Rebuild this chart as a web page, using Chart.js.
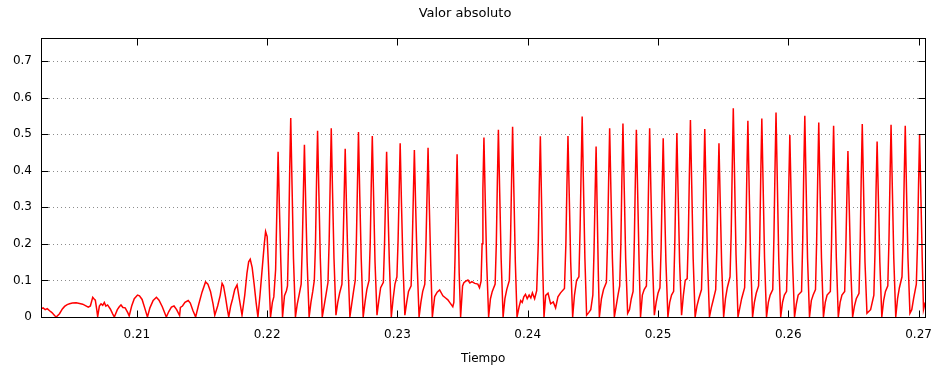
<!DOCTYPE html>
<html>
<head>
<meta charset="utf-8">
<script src="https://cdn.jsdelivr.net/npm/chart.js@4.4.1/dist/chart.umd.min.js"></script>
<style>
  html, body { margin: 0; padding: 0; background: #fff; }
  #wrap { width: 943px; height: 370px; }
</style>
</head>
<body>
<div id="wrap"><canvas id="chart" width="943" height="370"></canvas></div>
<script>
// values: [tiempo, valor absoluto]
const onset = [
  [0.20264,0.022],[0.20280,0.025],[0.20296,0.020],[0.20312,0.023],[0.20330,0.017],[0.20348,0.012],
  [0.20368,0.004],[0.20381,0.0],[0.20406,0.009],[0.20428,0.022],[0.20445,0.029],[0.20465,0.034],
  [0.20483,0.036],[0.20505,0.038],[0.20534,0.039],[0.20560,0.037],[0.20584,0.035],[0.20605,0.031],
  [0.20627,0.027],[0.20643,0.030],[0.20661,0.054],[0.20670,0.050],[0.20681,0.046],[0.20692,0.020],
  [0.20699,0.001],[0.20712,0.030],[0.20725,0.036],[0.20738,0.032],[0.20750,0.040],[0.20762,0.030],
  [0.20775,0.033],[0.20796,0.022],[0.20815,0.008],[0.20827,0.0],[0.20850,0.020],[0.20865,0.028],
  [0.20878,0.033],[0.20893,0.026],[0.20910,0.025],[0.20930,0.012],[0.20941,0.003],[0.20960,0.030],
  [0.20980,0.050],[0.21005,0.060],[0.21020,0.058],[0.21040,0.048],[0.21060,0.025],[0.21081,0.0],
  [0.21100,0.025],[0.21125,0.045],[0.21150,0.054],[0.21170,0.046],[0.21195,0.028],[0.21226,0.0],
  [0.21245,0.015],[0.21265,0.027],[0.21285,0.030],[0.21305,0.020],[0.21328,0.004],[0.21334,0.026],
  [0.21350,0.030],[0.21369,0.040],[0.21394,0.045],[0.21410,0.038],[0.21430,0.018],[0.21451,0.0],
  [0.21475,0.035],[0.21500,0.068],[0.21527,0.096],[0.21545,0.090],[0.21565,0.070],[0.21585,0.035],
  [0.21598,0.005],[0.21620,0.030],[0.21640,0.060],[0.21654,0.092],[0.21665,0.085],[0.21680,0.055],
  [0.21695,0.020],[0.21705,0.0],[0.21720,0.030],[0.21735,0.050],[0.21751,0.075],[0.21769,0.088],
  [0.21786,0.050],[0.21807,0.005],[0.21828,0.060],[0.21845,0.120],[0.21858,0.151],[0.21870,0.158],
  [0.21885,0.135],[0.21900,0.090],[0.21915,0.040],[0.21929,0.0],[0.21945,0.060],[0.21960,0.124],
  [0.21978,0.200],[0.21988,0.234],[0.22000,0.220],[0.22010,0.140],[0.22020,0.050],[0.22026,0.0],
  [0.22040,0.040],[0.22051,0.055],[0.22065,0.130],[0.22075,0.300],[0.22084,0.452],[0.22094,0.300],
  [0.22105,0.150],[0.22118,0.0],[0.22133,0.058],[0.22148,0.072]
];

const burstA = [
  [0.22156,0.085],[0.22165,0.22],[0.22173,0.40],[0.22181,0.544],[0.22191,0.36],[0.22202,0.16],[0.22217,0.0],[0.22231,0.035],[0.22245,0.06],
  [0.22261,0.09],[0.22270,0.20],[0.22278,0.34],[0.22286,0.471],[0.22296,0.31],[0.22307,0.15],[0.22322,0.0],[0.22336,0.04],[0.22350,0.07],
  [0.22362,0.10],[0.22371,0.20],[0.22379,0.37],[0.22387,0.509],[0.22397,0.34],[0.22408,0.16],[0.22423,0.0],[0.22437,0.03],[0.22451,0.06],
  [0.22467,0.095],[0.22476,0.21],[0.22484,0.37],[0.22492,0.516],[0.22502,0.34],[0.22513,0.16],[0.22528,0.005],[0.22542,0.04],[0.22556,0.065],
  [0.22574,0.09],[0.22583,0.20],[0.22591,0.33],[0.22599,0.460],[0.22609,0.30],[0.22620,0.15],[0.22635,0.0],[0.22649,0.035],[0.22663,0.07],
  [0.22676,0.10],[0.22685,0.21],[0.22693,0.36],[0.22701,0.506],[0.22711,0.33],[0.22722,0.16],[0.22737,0.0],[0.22751,0.04],[0.22765,0.075],
  [0.22782,0.10],[0.22791,0.20],[0.22799,0.36],[0.22807,0.495],[0.22817,0.33],[0.22828,0.15],[0.22843,0.005],[0.22857,0.045],[0.22871,0.08],
  [0.22892,0.095],[0.22901,0.20],[0.22909,0.33],[0.22917,0.452],[0.22927,0.30],[0.22938,0.15],[0.22953,0.0],[0.22967,0.05],[0.22981,0.09],
  [0.22996,0.11],[0.23005,0.21],[0.23013,0.34],[0.23021,0.475],[0.23031,0.31],[0.23042,0.15],[0.23057,0.005],[0.23071,0.04],[0.23085,0.07],
  [0.23105,0.085],[0.23114,0.20],[0.23122,0.33],[0.23130,0.457],[0.23140,0.30],[0.23151,0.15],[0.23166,0.0],[0.23180,0.04],[0.23194,0.07],
  [0.23210,0.09],[0.23219,0.20],[0.23227,0.33],[0.23235,0.463],[0.23245,0.30],[0.23256,0.14],[0.23268,0.0]
];

const pauseA = [
  [0.23286,0.056],[0.23305,0.068],[0.23324,0.074],[0.23349,0.058],[0.23370,0.052],[0.23387,0.047],
  [0.23405,0.038],[0.23425,0.028],[0.23433,0.040]
];

const burstB = [
  [0.23442,0.16],[0.23450,0.31],[0.23458,0.445],[0.23466,0.28],[0.23474,0.12],[0.23485,0.0],
  [0.23500,0.085],[0.23510,0.094],[0.23525,0.098],[0.23541,0.101],[0.23556,0.093],[0.23571,0.097],
  [0.23594,0.092],[0.23617,0.090],[0.23630,0.080],[0.23642,0.098],
  [0.23650,0.20],[0.23656,0.35],[0.23664,0.491],[0.23674,0.32],[0.23685,0.15],[0.23700,0.0],[0.23714,0.05],[0.23728,0.07],
  [0.23750,0.09],[0.23759,0.20],[0.23767,0.37],[0.23775,0.512],[0.23785,0.34],[0.23796,0.16],[0.23811,0.0],[0.23825,0.05],[0.23839,0.075],
  [0.23859,0.10],[0.23868,0.21],[0.23876,0.37],[0.23884,0.520],[0.23894,0.34],[0.23905,0.15],[0.23918,0.0]
];

const pauseB = [
  [0.23934,0.028],[0.23946,0.045],[0.23958,0.040],[0.23970,0.055],[0.23983,0.062],[0.23996,0.050],
  [0.24011,0.060],[0.24024,0.052],[0.24036,0.066],[0.24053,0.050],[0.24069,0.072]
];

const burstC = [
  [0.24081,0.20],[0.24089,0.36],[0.24097,0.494],[0.24106,0.32],[0.24115,0.14],[0.24125,0.0],
  [0.24138,0.059],[0.24156,0.065],[0.24176,0.036],[0.24196,0.041],[0.24214,0.025],[0.24232,0.055],
  [0.24252,0.066],[0.24282,0.078],
  [0.24293,0.20],[0.24301,0.36],[0.24309,0.495],[0.24319,0.33],[0.24330,0.15],[0.24345,0.0],[0.24359,0.06],[0.24375,0.10],
  [0.24393,0.11],[0.24402,0.24],[0.24410,0.40],[0.24418,0.548],[0.24428,0.36],[0.24439,0.16],[0.24452,0.005],[0.24468,0.012],[0.24484,0.02],
  [0.24500,0.06],[0.24509,0.18],[0.24517,0.33],[0.24525,0.466],[0.24533,0.30],[0.24542,0.12],[0.24550,0.0],[0.24566,0.05],[0.24582,0.075]
];

const burstD = [
  [0.24604,0.095],[0.24613,0.21],[0.24621,0.37],[0.24629,0.516],[0.24639,0.34],[0.24650,0.16],[0.24665,0.0],[0.24679,0.03],[0.24693,0.06],
  [0.24706,0.085],[0.24715,0.20],[0.24723,0.38],[0.24731,0.529],[0.24741,0.35],[0.24752,0.16],[0.24767,0.01],[0.24781,0.02],[0.24795,0.05],
  [0.24809,0.07],[0.24818,0.20],[0.24826,0.37],[0.24834,0.512],[0.24844,0.34],[0.24855,0.15],[0.24866,0.0],[0.24880,0.06],[0.24894,0.075],
  [0.24911,0.085],[0.24920,0.20],[0.24928,0.37],[0.24936,0.516],[0.24946,0.34],[0.24957,0.16],[0.24972,0.005],[0.24986,0.04],[0.25000,0.065],
  [0.25015,0.08],[0.25024,0.19],[0.25032,0.35],[0.25040,0.489],[0.25050,0.32],[0.25061,0.15],[0.25076,0.0],[0.25090,0.04],[0.25104,0.06],
  [0.25120,0.07],[0.25129,0.20],[0.25137,0.36],[0.25145,0.503],[0.25155,0.33],[0.25166,0.15],[0.25181,0.005],[0.25195,0.06],[0.25209,0.10],
  [0.25224,0.105],[0.25233,0.22],[0.25241,0.39],[0.25249,0.539],[0.25259,0.36],[0.25270,0.16],[0.25285,0.0],[0.25299,0.03],[0.25313,0.05],
  [0.25334,0.075],[0.25343,0.20],[0.25351,0.37],[0.25359,0.514],[0.25369,0.34],[0.25380,0.16],[0.25395,0.0],[0.25409,0.025],[0.25423,0.045],
  [0.25443,0.075],[0.25452,0.19],[0.25460,0.34],[0.25468,0.475],[0.25478,0.31],[0.25489,0.14],[0.25504,0.0],[0.25518,0.05],[0.25532,0.08],
  [0.25553,0.11],[0.25562,0.23],[0.25570,0.41],[0.25578,0.571],[0.25588,0.38],[0.25599,0.17],[0.25614,0.0],[0.25628,0.025],[0.25642,0.05],
  [0.25665,0.08],[0.25674,0.21],[0.25682,0.39],[0.25690,0.537],[0.25700,0.35],[0.25711,0.16],[0.25726,0.0],[0.25740,0.04],[0.25754,0.065],
  [0.25772,0.085],[0.25781,0.21],[0.25789,0.39],[0.25797,0.543],[0.25807,0.36],[0.25818,0.16],[0.25833,0.0],[0.25847,0.04],[0.25861,0.06]
];

const burstE = [
  [0.25881,0.075],[0.25890,0.22],[0.25898,0.40],[0.25906,0.559],[0.25916,0.37],[0.25927,0.16],[0.25942,0.0],[0.25956,0.04],[0.25970,0.06],
  [0.25987,0.07],[0.25996,0.20],[0.26004,0.36],[0.26012,0.498],[0.26022,0.33],[0.26033,0.15],[0.26048,0.0],[0.26062,0.035],[0.26076,0.06],
  [0.26102,0.07],[0.26111,0.21],[0.26119,0.40],[0.26127,0.550],[0.26137,0.36],[0.26148,0.16],[0.26163,0.0],[0.26177,0.045],[0.26191,0.06],
  [0.26209,0.075],[0.26218,0.21],[0.26226,0.38],[0.26234,0.532],[0.26244,0.35],[0.26255,0.16],[0.26270,0.0],[0.26284,0.04],[0.26298,0.06],
  [0.26323,0.07],[0.26332,0.20],[0.26340,0.38],[0.26348,0.523],[0.26358,0.34],[0.26369,0.16],[0.26384,0.0],[0.26398,0.04],[0.26412,0.06],
  [0.26433,0.07],[0.26442,0.19],[0.26450,0.33],[0.26458,0.454],[0.26468,0.30],[0.26479,0.14],[0.26494,0.0],[0.26508,0.03],[0.26522,0.05],
  [0.26543,0.065],[0.26552,0.20],[0.26560,0.38],[0.26568,0.528],[0.26578,0.35],[0.26589,0.15],[0.26604,0.01],[0.26618,0.015],[0.26632,0.02],
  [0.26657,0.06],[0.26666,0.18],[0.26674,0.35],[0.26682,0.480],[0.26692,0.32],[0.26703,0.15],[0.26718,0.0],[0.26732,0.045],[0.26746,0.07],
  [0.26764,0.085],[0.26773,0.21],[0.26781,0.38],[0.26789,0.526],[0.26799,0.35],[0.26810,0.16],[0.26825,0.0],[0.26839,0.05],[0.26853,0.08],
  [0.26873,0.11],[0.26882,0.22],[0.26890,0.38],[0.26898,0.523],[0.26908,0.34],[0.26919,0.16],[0.26934,0.01],[0.26948,0.02],[0.26962,0.05],
  [0.26983,0.09],[0.26992,0.20],[0.27000,0.36],[0.27008,0.498],[0.27018,0.33],[0.27029,0.15],[0.27038,0.02],[0.27051,0.04]
];

const xTicks = [0.21, 0.22, 0.23, 0.24, 0.25, 0.26, 0.27];
const xTickLabels = ["0.21", "0.22", "0.23", "0.24", "0.25", "0.26", "0.27"];
const yTicks = [0, 0.1, 0.2, 0.3, 0.4, 0.5, 0.6, 0.7];
const yTickLabels = ["0", "0.1", "0.2", "0.3", "0.4", "0.5", "0.6", "0.7"];

const serie = [].concat(onset, burstA, pauseA, burstB, pauseB, burstC, burstD, burstE);

const FONT = "'DejaVu Sans', sans-serif";

// gnuplot look: dotted y grid, black box, ticks pointing inwards on all sides
const gnuplotFrame = {
  id: "gnuplotFrame",
  beforeDatasetsDraw(chart) {
    const { ctx, chartArea: a, scales: { y } } = chart;
    ctx.save();
    ctx.strokeStyle = "#8c8c8c";
    ctx.lineWidth = 1;
    ctx.setLineDash([1, 3]);
    yTicks.forEach((v) => {
      if (v === 0) return;
      const py = Math.round(y.getPixelForValue(v)) + 0.5;
      ctx.beginPath();
      ctx.moveTo(a.left, py);
      ctx.lineTo(a.right, py);
      ctx.stroke();
    });
    ctx.restore();
  },
  afterDatasetsDraw(chart) {
    const { ctx, chartArea: a, scales: { x, y } } = chart;
    const L = Math.round(a.left) + 0.5, R = Math.round(a.right) + 0.5;
    const T = Math.round(a.top) + 0.5, B = Math.round(a.bottom) + 0.5;
    const len = 7;
    ctx.save();
    ctx.strokeStyle = "#000";
    ctx.lineWidth = 1;
    ctx.beginPath();
    xTicks.forEach((v) => {
      const px = Math.round(x.getPixelForValue(v)) + 0.5;
      ctx.moveTo(px, B); ctx.lineTo(px, B - len);
      ctx.moveTo(px, T); ctx.lineTo(px, T + len);
    });
    yTicks.forEach((v) => {
      const py = Math.round(y.getPixelForValue(v)) + 0.5;
      ctx.moveTo(L, py); ctx.lineTo(L + len, py);
      ctx.moveTo(R, py); ctx.lineTo(R - len, py);
    });
    ctx.stroke();
    ctx.strokeRect(L, T, R - L, B - T);
    ctx.restore();
  },
};

const ctx = document.getElementById("chart").getContext("2d");
new Chart(ctx, {
  type: "line",
  data: {
    datasets: [
      {
        label: "Valor absoluto",
        data: serie.map((p) => ({ x: p[0], y: p[1] })),
        borderColor: "#ff0000",
        borderWidth: 1.5,
        pointRadius: 0,
        tension: 0,
        fill: false,
      },
    ],
  },
  options: {
    responsive: false,
    animation: false,
    events: [],
    layout: { padding: { left: 0, right: 13, top: 0, bottom: 0 } },
    plugins: {
      legend: { display: false },
      tooltip: { enabled: false },
      title: {
        display: true,
        text: "Valor absoluto",
        color: "#000",
        font: { family: FONT, size: 13, weight: "normal" },
        padding: { top: 6, bottom: 16.4 },
      },
    },
    scales: {
      x: {
        type: "linear",
        min: 0.20264,
        max: 0.27051,
        afterBuildTicks: (s) => { s.ticks = xTicks.map((v) => ({ value: v })); },
        afterFit: (s) => { s.height = 53; },
        grid: { display: false, drawTicks: false },
        border: { display: false },
        ticks: {
          color: "#000",
          padding: 11,
          maxRotation: 0,
          font: { family: FONT, size: 12 },
          callback: (v) => xTickLabels[xTicks.indexOf(v)],
        },
        title: {
          display: true,
          text: "Tiempo",
          color: "#000",
          font: { family: FONT, size: 12 },
          padding: { top: 0, bottom: 4 },
        },
      },
      y: {
        type: "linear",
        min: 0,
        max: 0.763,
        afterBuildTicks: (s) => { s.ticks = yTicks.map((v) => ({ value: v })); },
        afterFit: (s) => { s.width = 41; },
        grid: { display: false, drawTicks: false },
        border: { display: false },
        ticks: {
          color: "#000",
          padding: 9,
          font: { family: FONT, size: 12 },
          callback: (v) => yTickLabels[yTicks.indexOf(v)],
        },
      },
    },
  },
  plugins: [gnuplotFrame],
});
</script>
</body>
</html>
